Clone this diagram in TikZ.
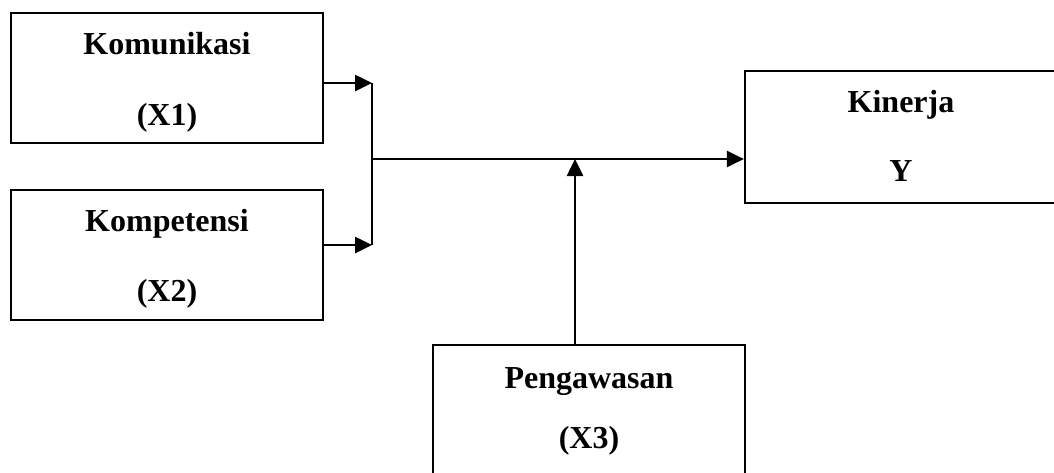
\documentclass[tikz,border=0pt]{standalone}
\usepackage{fontspec}
\setmainfont{Liberation Serif}
\usetikzlibrary{arrows.meta}
\begin{document}
\begin{tikzpicture}[x=1pt,y=-1pt,
  varbox/.style={draw,line width=2.2pt,minimum width=312pt,inner sep=0pt},
  lbl/.style={anchor=base,inner sep=0pt,font=\fontsize{32}{36}\selectfont\bfseries},
  conn/.style={line width=2.6pt},
  arr/.style={conn,-{Triangle[length=17pt,width=16pt]}}]
\useasboundingbox (0,0) rectangle (1054,472);
% boxes
\node[varbox,minimum height=130pt] (x1) at (167,78) {};
\node[varbox,minimum height=130pt] (x2) at (167,255) {};
\node[varbox,minimum height=132pt] (kin) at (901,137) {};
\node[varbox,minimum height=130pt] (pen) at (589,410) {};
% labels
\node[lbl] (x1a) at (167,54) {Komunikasi};
\node[lbl] (x1b) at (167,125) {(X1)};
\node[lbl] (x2a) at (167,231) {Kompetensi};
\node[lbl] (x2b) at (167,301) {(X2)};
\node[lbl] (kina) at (901,112) {Kinerja};
\node[lbl] (kinb) at (901,181) {Y};
\node[lbl] (pena) at (589,388) {Pengawasan};
\node[lbl] (penb) at (589,448) {(X3)};
% connectors
\coordinate (j1) at (372,83);
\coordinate (j2) at (372,245);
\coordinate (jm) at (372,159);
\coordinate (t) at (575,159);
\draw[arr] (x1.east |- j1) -- (j1);
\draw[arr] (x2.east |- j2) -- (j2);
\draw[conn] (j1) -- (j2);
\draw[arr] (jm) -- (kin.west |- jm);
\draw[arr] (pen.north -| t) -- (t);
\end{tikzpicture}
\end{document}
